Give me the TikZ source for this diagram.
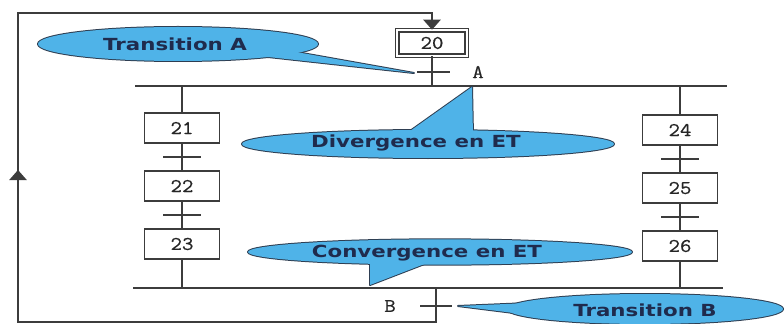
\documentclass[tikz,border=0pt]{standalone}
\usepackage{fontspec}
\usetikzlibrary{arrows.meta}
\newfontfamily\callfont[FakeStretch=1.28]{DejaVu Sans}
\newfontfamily\stepfont[FakeBold=0.6,FakeStretch=1.15]{Latin Modern Mono}
\definecolor{linec}{HTML}{3C3C3C}
\definecolor{calloutblue}{HTML}{4FB3E8}
\definecolor{calloutborder}{HTML}{2E3E52}
\definecolor{navy}{HTML}{1F2B4D}
\begin{document}
\begin{tikzpicture}[x=0.75pt,y=-0.75pt,
  stepbox/.style={draw=linec, line width=0.9pt, minimum width=56pt, minimum height=22.5pt, inner sep=0pt, fill=white,
    font=\stepfont\fontsize{14.5}{14.5}\selectfont, text=black!85},
  initstep/.style={stepbox, double=white, double distance=1.6pt, minimum width=52pt, minimum height=19pt},
  link/.style={draw=linec, line width=0.9pt},
  andbar/.style={draw=linec, line width=2pt},
  trbar/.style={draw=linec, line width=0.9pt},
  trlabel/.style={font=\stepfont\fontsize{14.5}{14.5}\selectfont, text=black!85, inner sep=0pt},
  tip/.style={-{Triangle[width=13pt,length=7.5pt]}},
  calloutline/.style={draw=calloutborder, line width=1.5pt, line join=round},
  calloutfill/.style={fill=calloutblue},
  calltext/.style={font=\callfont\bfseries\fontsize{12.5}{12.5}\selectfont, text=navy, inner sep=0pt}]
\useasboundingbox (0,0) rectangle (784,324);

% steps
\node[initstep] (s20) at (432,43) {20};
\node[stepbox] (s21) at (182,128) {21};
\node[stepbox] (s22) at (182,186) {22};
\node[stepbox] (s23) at (182,244) {23};
\node[stepbox] (s24) at (680,130) {24};
\node[stepbox] (s25) at (680,188) {25};
\node[stepbox] (s26) at (680,246) {26};

% AND bars
\coordinate (divL) at (135,86);
\coordinate (divR) at (727,86);
\coordinate (conL) at (133,288);
\coordinate (conR) at (723,288);

% links
\draw[link] (s20.south) -- (s20 |- divL);
\draw[link] (s21 |- divL) -- (s21.north);
\draw[link] (s24 |- divL) -- (s24.north);
\draw[link] (s21) -- (s22);
\draw[link] (s22) -- (s23);
\draw[link] (s24) -- (s25);
\draw[link] (s25) -- (s26);
\draw[link] (s23.south) -- (s23 |- conL);
\draw[link] (s26.south) -- (s26 |- conL);
\draw[andbar] (divL) -- (divR);
\draw[andbar] (conL) -- (conR);

% transitions
\coordinate (tA) at (432,72);
\coordinate (t1) at (182,157);
\coordinate (t2) at (182,215);
\coordinate (t3) at (680,159);
\coordinate (t4) at (680,217);
\coordinate (tB) at (436,306);
\draw[trbar] ([xshift=-11pt]tA) -- ([xshift=13.5pt]tA);
\foreach \t in {t1,t2,t3,t4}{\draw[trbar] ([xshift=-14pt]\t) -- ([xshift=14pt]\t);}
\draw[trbar] ([xshift=-12pt]tB) -- ([xshift=12pt]tB);
\node[trlabel] (lA) at (478,72) {A};
\node[trlabel] (lB) at (390,306) {B};

% loop back
\coordinate (lbr) at (436,322);
\coordinate (lbl) at (18,322);
\coordinate (ltl) at (18,13);
\coordinate (ltr) at (432,13);
\coordinate (lmid1) at (18,190);
\coordinate (lmid2) at (18,170);
\draw[link, tip] (tB |- conL) -- (lbr) -- (lbl) -- (ltl) -- (ltr) -- (s20.north);
\draw[link, tip] (lmid1) -- (lmid2);

% callouts
\coordinate (cA) at (178,44);
\coordinate (cD) at (428,144);
\coordinate (cC) at (440,252);
\coordinate (cB) at (645,309);
\path[calloutline] (cA) ellipse [x radius=105pt, y radius=12.75pt];
\path[calloutline] (285,50) -- (414,73) -- (250,55) -- cycle;
\path[calloutline] (cD) ellipse [x radius=139.5pt, y radius=10.5pt];
\path[calloutline] (403,136) -- (472,87) -- (473,136) -- cycle;
\path[calloutline] (cC) ellipse [x radius=144pt, y radius=9.5pt];
\path[calloutline] (370,258) -- (370,285) -- (440,258) -- cycle;
\path[calloutline] (cB) ellipse [x radius=103.5pt, y radius=11.25pt];
\path[calloutline] (530,303) -- (458,306) -- (530,315) -- cycle;

\path[calloutfill] (cA) ellipse [x radius=105pt, y radius=12.75pt];
\path[calloutfill] (285,50) -- (414,73) -- (250,55) -- cycle;
\path[calloutfill] (cD) ellipse [x radius=139.5pt, y radius=10.5pt];
\path[calloutfill] (403,136) -- (472,87) -- (473,136) -- cycle;
\path[calloutfill] (cC) ellipse [x radius=144pt, y radius=9.5pt];
\path[calloutfill] (370,258) -- (370,285) -- (440,258) -- cycle;
\path[calloutfill] (cB) ellipse [x radius=103.5pt, y radius=11.25pt];
\path[calloutfill] (530,303) -- (458,306) -- (530,315) -- cycle;

\node[calltext] (txtA) at (175,44) {Transition A};
\node[calltext] (txtD) at (416,143) {Divergence en ET};
\node[calltext] (txtC) at (427,253) {Convergence en ET};
\node[calltext] (txtB) at (645,310) {Transition B};
\end{tikzpicture}
\end{document}
